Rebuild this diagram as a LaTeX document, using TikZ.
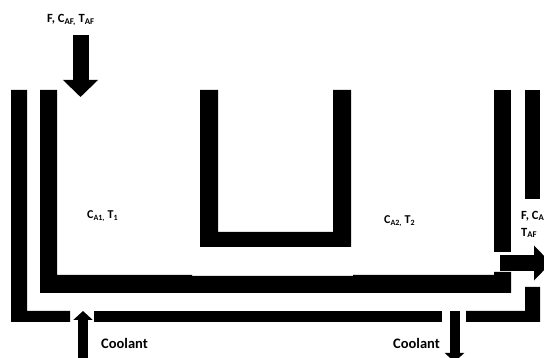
\documentclass[tikz,border=0pt]{standalone}
\usepackage{fontspec}
\setmainfont{Carlito}
\usetikzlibrary{arrows.meta}
\tikzset{
  wall/.style = {fill = black},
  flow/.style = {draw = black, line width = 16pt,
    -{Triangle[length = 17pt, width = 34pt]}},
  coolant/.style = {draw = black, line width = 10pt,
    -{Triangle[length = 9pt, width = 19pt]}},
  lab/.style = {anchor = west, inner sep = 0pt, font = \bfseries\fontsize{14.5}{16}\selectfont},
  streamlab/.style = {anchor = west, inner sep = 0pt, font = \bfseries\fontsize{12.5}{15}\selectfont},
  tanklab/.style = {anchor = west, inner sep = 0pt, font = \bfseries\fontsize{12}{14}\selectfont}
}
\begin{document}
\begin{tikzpicture}[x = 1pt, y = -1pt]
\useasboundingbox (0,0) rectangle (544,358);
\clip (0,0) rectangle (544,358);
% jacket
\fill[wall] (11,90) -- (27,90) -- (27,311) -- (70,311) -- (70,322) -- (11,322) -- cycle;
\fill[wall] (94,311) rectangle (442,322);
\fill[wall] (466,311) -- (525,311) -- (525,287) -- (540,287) -- (540,322) -- (466,322) -- cycle;
\fill[wall] (525,90) rectangle (540,199);
%
% vessel
\fill[wall] (40,90) -- (57,90) -- (57,275) -- (192,275) -- (192,276) -- (353,276)
  -- (353,275) -- (494,275) -- (494,272) -- (511,272) -- (511,293) -- (40,293) -- cycle;
\fill[wall] (494,90) rectangle (511,252);
%
% baffle
\fill[wall] (200,90) -- (218,90) -- (218,232) -- (333,232) -- (333,90) -- (351,90)
  -- (351,247) -- (200,247) -- cycle;
%
% feed and product streams
\coordinate (feedstart) at (80.5,35);
\coordinate (feedend) at (80.5,97);
\draw[flow] (feedstart) -- (feedend);
\coordinate (prodstart) at (500,263);
\coordinate (prodend) at (551,263);
\draw[flow] (prodstart) -- (prodend);
%
% coolant streams
\coordinate (coolinstart) at (83,358);
\coordinate (coolinend) at (83,311);
\draw[coolant] (coolinstart) -- (coolinend);
\coordinate (cooloutstart) at (454.5,311);
\coordinate (cooloutend) at (454.5,362);
\draw[coolant] (cooloutstart) -- (cooloutend);
%
\node[streamlab] (feed) at (47,20) {F, C\textsubscript{AF,} T\textsubscript{AF}};
\node[tanklab] (tankone) at (87,216) {C\textsubscript{A1,} T\textsubscript{1}};
\node[tanklab] (tanktwo) at (384,221) {C\textsubscript{A2,} T\textsubscript{2}};
\node[streamlab] (prodone) at (521,216) {F, C\textsubscript{A}};
\node[streamlab] (prodtwo) at (521,233) {T\textsubscript{AF}};
\node[lab] (coolin) at (101,343) {Coolant};
\node[lab] (coolout) at (393,343) {Coolant};
\end{tikzpicture}
\end{document}
